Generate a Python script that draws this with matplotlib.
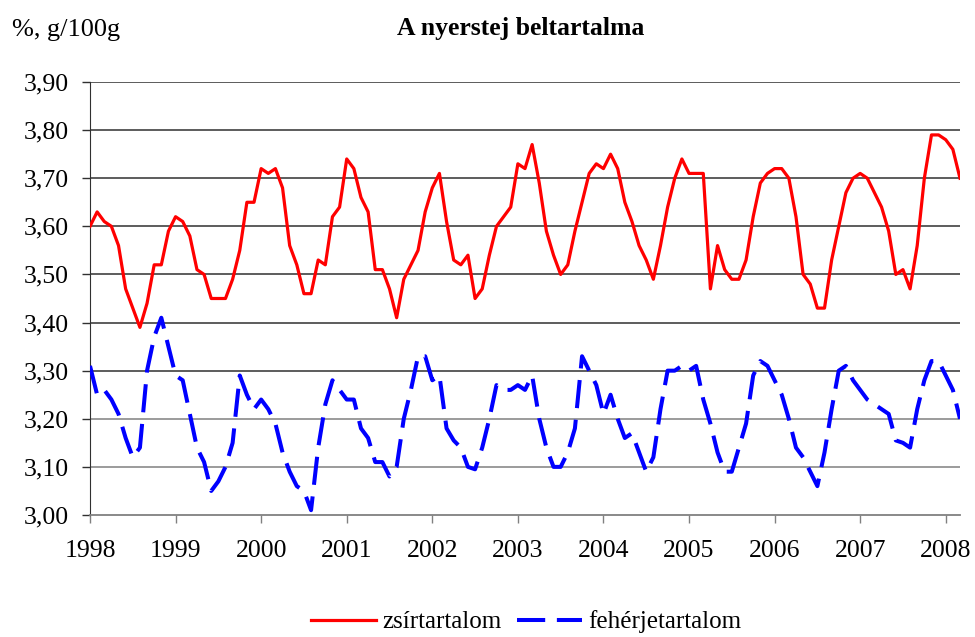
import matplotlib
matplotlib.use("Agg")
import matplotlib.pyplot as plt
import numpy as np

plt.rcParams['font.family'] = ['Liberation Serif', 'DejaVu Serif']

start_year = 1998
year_ticks = list(range(1998, 2009))
y_ticks = [3.00, 3.10, 3.20, 3.30, 3.40, 3.50, 3.60, 3.70, 3.80, 3.90]

# zsírtartalom (fat content), monthly Jan 1998 - Mar 2008
fat = [
    3.60, 3.63, 3.61, 3.60, 3.56, 3.47, 3.43, 3.39, 3.44, 3.52, 3.52, 3.59,
    3.62, 3.61, 3.58, 3.51, 3.50, 3.45, 3.45, 3.45, 3.49, 3.55, 3.65, 3.65,
    3.72, 3.71, 3.72, 3.68, 3.56, 3.52, 3.46, 3.46, 3.53, 3.52, 3.62, 3.64,
    3.74, 3.72, 3.66, 3.63, 3.51, 3.51, 3.47, 3.41, 3.49, 3.52, 3.55, 3.63,
    3.68, 3.71, 3.61, 3.53, 3.52, 3.54, 3.45, 3.47, 3.54, 3.60, 3.62, 3.64,
    3.73, 3.72, 3.77, 3.69, 3.59, 3.54, 3.50, 3.52, 3.59, 3.65, 3.71, 3.73,
    3.72, 3.75, 3.72, 3.65, 3.61, 3.56, 3.53, 3.49, 3.56, 3.64, 3.70, 3.74,
    3.71, 3.71, 3.71, 3.47, 3.56, 3.51, 3.49, 3.49, 3.53, 3.62, 3.69, 3.71,
    3.72, 3.72, 3.70, 3.62, 3.50, 3.48, 3.43, 3.43, 3.53, 3.60, 3.67, 3.70,
    3.71, 3.70, 3.67, 3.64, 3.59, 3.50, 3.51, 3.47, 3.56, 3.70, 3.79, 3.79,
    3.78, 3.76, 3.70,
]

# fehérjetartalom (protein content)
protein = [
    3.31, 3.25, 3.26, 3.24, 3.21, 3.16, 3.12, 3.14, 3.30, 3.37, 3.41, 3.35,
    3.29, 3.28, 3.21, 3.14, 3.11, 3.05, 3.07, 3.10, 3.15, 3.29, 3.25, 3.22,
    3.24, 3.22, 3.19, 3.13, 3.09, 3.06, 3.05, 3.01, 3.14, 3.23, 3.28, 3.26,
    3.24, 3.24, 3.18, 3.16, 3.11, 3.11, 3.08, 3.10, 3.20, 3.26, 3.33, 3.33,
    3.28, 3.29, 3.18, 3.155, 3.14, 3.10, 3.095, 3.14, 3.20, 3.27, 3.26, 3.26,
    3.27, 3.26, 3.29, 3.20, 3.14, 3.10, 3.10, 3.13, 3.18, 3.33, 3.30, 3.27,
    3.21, 3.25, 3.20, 3.16, 3.17, 3.13, 3.09, 3.12, 3.22, 3.30, 3.30, 3.31,
    3.30, 3.31, 3.24, 3.19, 3.13, 3.09, 3.09, 3.14, 3.19, 3.29, 3.32, 3.31,
    3.28, 3.25, 3.20, 3.14, 3.12, 3.09, 3.06, 3.13, 3.22, 3.30, 3.31, 3.28,
    3.26, 3.24, 3.23, 3.22, 3.21, 3.155, 3.15, 3.14, 3.22, 3.28, 3.32, 3.32,
    3.29, 3.26, 3.20,
]

x = start_year + np.arange(len(fat)) / 12.0

fig = plt.figure(figsize=(9.75, 6.37), dpi=100)
ax = fig.add_axes([90/975, 1-515/637, 870/975, 433/637])

for yv in y_ticks[1:]:
    c = '#808080' if yv < 3.25 else '#303030'
    ax.axhline(yv, color=c, lw=1.1, zorder=1)

ax.plot(x, fat, color='#ff0000', lw=2.3, label='zsírtartalom', zorder=3)
ax.plot(x, protein, color='#0000ff', lw=2.9, linestyle=(0, (7, 2.9)),
        label='fehérjetartalom', zorder=3)

ax.set_xlim(1998, x[-1])
ax.set_ylim(3.0, 3.9)
ax.set_xticks(year_ticks)
ax.set_xticklabels([str(y) for y in year_ticks])
ax.set_yticks(y_ticks)
ax.set_yticklabels([f"{v:.2f}".replace('.', ',') for v in y_ticks])
ax.tick_params(axis='both', labelsize=18.5, colors='black')
ax.tick_params(axis='x', length=6, width=1, color='#808080', pad=12)
ax.tick_params(axis='y', length=6, width=1, color='#303030', pad=9)

for s in ['top', 'right']:
    ax.spines[s].set_visible(False)
ax.spines['left'].set_color('#303030')
ax.spines['bottom'].set_color('#808080')
ax.spines['bottom'].set_linewidth(1.3)

fig.text(12/975, 1-30/637, '%, g/100g', fontsize=19, va='center', ha='left')
fig.text(521/975, 1-28/637, 'A nyerstej beltartalma', fontsize=18.5,
         fontweight='bold', va='center', ha='center')

leg = fig.legend(loc='center', bbox_to_anchor=(526/975, 1-622/637), ncol=2,
                 frameon=False, fontsize=18, handlelength=2.6,
                 columnspacing=0.6, handletextpad=0.25)

fig.savefig('out.png', dpi=100)
